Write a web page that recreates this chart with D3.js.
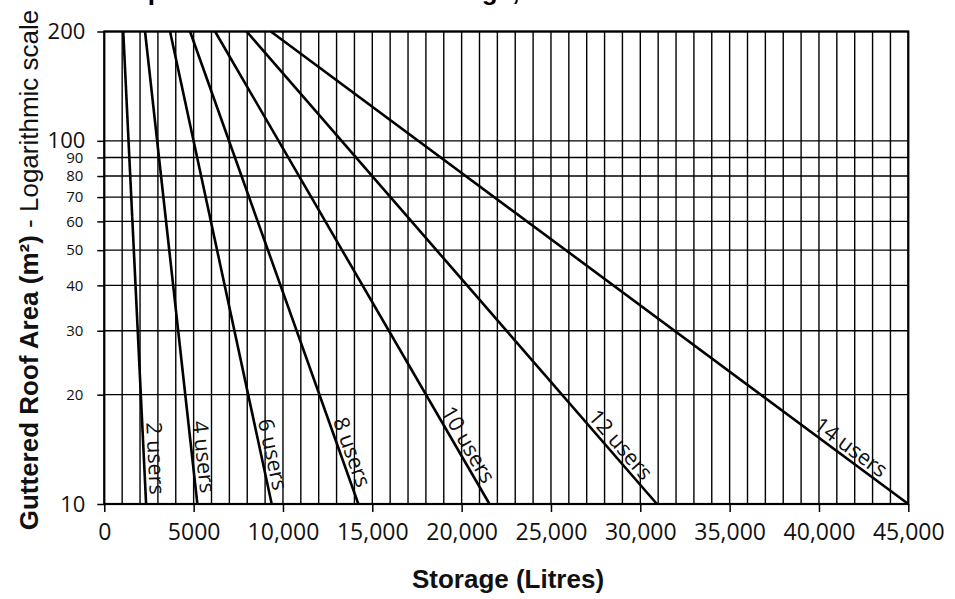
<!DOCTYPE html>
<html>
<head>
<meta charset="utf-8">
<script src="https://cdn.jsdelivr.net/npm/d3@7"></script>
<style>
  html, body { margin: 0; padding: 0; background: #fff; }
  svg { display: block; }
</style>
</head>
<body>
<svg id="chart" width="955" height="599"></svg>
<script>
// ---- data ----
const users = [2, 4, 6, 8, 10, 12, 14];
const userLabels = ["2 users", "4 users", "6 users", "8 users", "10 users", "12 users", "14 users"];
// storage (litres) where each line meets 200 m² and 10 m²
const storageAt200 = [1060, 2280, 3680, 4800, 6200, 7970, 9320];
const storageAt10 = [2340, 5210, 9370, 14220, 21560, 30930, 45000];
const areaTop = 200, areaBottom = 10;

const xTicks = [0, 5000, 10000, 15000, 20000, 25000, 30000, 35000, 40000, 45000];
const xTickLabels = ["0", "5000", "10,000", "15,000", "20,000", "25,000", "30,000", "35,000", "40,000", "45,000"];
const yTicks = [10, 20, 30, 40, 50, 60, 70, 80, 90, 100, 200];
const yTickLabels = ["10", "20", "30", "40", "50", "60", "70", "80", "90", "100", "200"];
const yMajor = [10, 100, 200];
const xGridStep = 1000;

const titleText = "Simplified Roof Area and Storage, All Users";
const xTitle = "Storage (Litres)";
const yTitleBold = "Guttered Roof Area (m²)";
const yTitleRest = " - Logarithmic scale";

// ---- layout ----
const svg = d3.select("#chart");
const L = 104.3, R = 908.3, T = 31.5, B = 504;
const x = d3.scaleLinear().domain([0, 45000]).range([L, R]);
const y = d3.scaleLog().domain([10, 200]).range([B, T]);

// title (cropped at top)
svg.append("text")
  .attr("x", 100).attr("y", 0)
  .attr("font-family", "Liberation Sans, Arial, sans-serif")
  .attr("font-weight", "bold").attr("font-size", 26)
  .text(titleText);

// grid
const g = svg.append("g");
g.selectAll(".vg").data(d3.range(0, 45000 + 1, xGridStep)).enter().append("line")
  .attr("x1", d => x(d)).attr("x2", d => x(d))
  .attr("y1", T).attr("y2", B)
  .attr("stroke", "#000").attr("stroke-width", 1.4);
g.selectAll(".hg").data(yTicks).enter().append("line")
  .attr("x1", L).attr("x2", R)
  .attr("y1", d => y(d)).attr("y2", d => y(d))
  .attr("stroke", "#000").attr("stroke-width", 1.4);

// frame
svg.append("rect").attr("x", L).attr("y", T).attr("width", R - L).attr("height", B - T)
  .attr("fill", "none").attr("stroke", "#000").attr("stroke-width", 2.2);

// axes
const xAxis = d3.axisBottom(x).tickValues(xTicks)
  .tickFormat((d, i) => xTickLabels[i]).tickSize(8).tickPadding(12);
const xa = svg.append("g").attr("transform", `translate(0,${B})`).call(xAxis);
xa.select(".domain").remove();
xa.selectAll(".tick line").attr("stroke", "#000").attr("stroke-width", 1.5);
xa.selectAll(".tick text")
  .attr("font-family", "Open Sans, sans-serif").attr("font-size", 23).attr("fill", "#111");

const yAxis = d3.axisLeft(y).tickValues(yTicks)
  .tickFormat((d, i) => yTickLabels[i]).tickSize(7).tickPadding(12);
const ya = svg.append("g").attr("transform", `translate(${L},0)`).call(yAxis);
ya.select(".domain").remove();
ya.selectAll(".tick line").attr("stroke", "#000").attr("stroke-width", 1.5);
ya.selectAll(".tick text")
  .attr("font-family", "Open Sans, sans-serif")
  .attr("font-size", d => yMajor.includes(d) ? 22 : 15)
  .attr("dx", d => yMajor.includes(d) ? 0 : -2)
  .attr("fill", "#111");

// lines
const line = d3.line().x(d => x(d[0])).y(d => y(d[1]));
const series = users.map((u, i) => ({
  label: userLabels[i],
  pts: [[storageAt200[i], areaTop], [storageAt10[i], areaBottom]]
}));
svg.selectAll(".uline").data(series).enter().append("path")
  .attr("d", d => line(d.pts))
  .attr("fill", "none").attr("stroke", "#000").attr("stroke-width", 2.6);

// labels along lines
series.forEach(s => {
  const x0 = x(s.pts[0][0]), y0 = y(s.pts[0][1]);
  const x1 = x(s.pts[1][0]), y1 = y(s.pts[1][1]);
  const th = Math.atan2(y1 - y0, x1 - x0);
  const c = Math.cos(th), sn = Math.sin(th);
  const py = B - (8 + 18 * c);
  const t = (py - y0) / (y1 - y0);
  const px = x0 + t * (x1 - x0);
  const gap = 4;
  const ax = px + gap * sn, ay = py - gap * c;
  svg.append("text")
    .attr("transform", `translate(${ax},${ay}) rotate(${th * 180 / Math.PI})`)
    .attr("text-anchor", "end")
    .attr("font-family", "Open Sans, sans-serif").attr("font-size", 21.5)
    .attr("fill", "#111")
    .text(s.label);
});

// axis titles
svg.append("text")
  .attr("x", 508).attr("y", 588)
  .attr("text-anchor", "middle")
  .attr("font-family", "Liberation Sans, Arial, sans-serif")
  .attr("font-weight", "bold").attr("font-size", 26)
  .attr("fill", "#111")
  .text(xTitle);

const yt = svg.append("text")
  .attr("transform", "translate(38,270) rotate(-90)")
  .attr("text-anchor", "middle")
  .attr("font-family", "Liberation Sans, Arial, sans-serif")
  .attr("font-size", 26).attr("fill", "#111");
yt.append("tspan").attr("font-weight", "bold").text(yTitleBold);
yt.append("tspan").attr("font-weight", "normal").text(yTitleRest);
</script>
</body>
</html>
